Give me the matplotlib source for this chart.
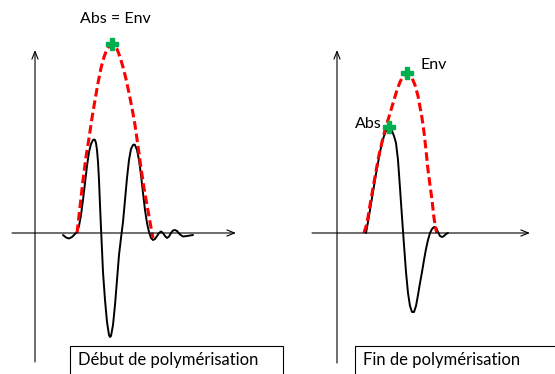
import matplotlib.pyplot as plt
from matplotlib.patches import Rectangle

plt.rcParams["font.family"] = ["Lato", "DejaVu Sans"]

# Signal samples, x along the time axis and y as amplitude above the baseline
start_x = [28, 31, 34, 37, 40, 42, 44, 46, 48, 50, 52, 54, 56, 58, 59, 60, 61, 62, 63,
           64, 65, 66, 67, 68, 70, 72, 74, 75, 76, 78, 80, 82, 84, 86, 88, 90, 92, 94,
           96, 98, 99, 100, 102, 104, 106, 108, 110, 112, 114, 116, 118, 120, 122, 124,
           126, 128, 130, 132, 134, 136, 138, 140, 142, 145, 148, 152, 155, 158]
start_y = [-2, -4.5, -5.5, -4, -1, 1, 7, 18, 33, 50, 67, 81, 89, 93, 93.5, 93, 90, 83,
           71, 53, 28, 5, -17, -39, -67, -89, -102, -104, -103, -92, -72, -47, -22, -5,
           11, 33, 55, 73, 84, 88, 88.5, 88, 83, 73, 58, 40, 23, 10, 1, -5, -7, -6, -3,
           0, 1.5, 0, -3, -5, -3.5, 0, 2.5, 3, 2, -1.5, -3.5, -3, -2.5, -2]

start_env_x = [42, 45, 48, 51, 54, 57, 60, 63, 66, 69, 72, 75, 77, 79, 82, 85, 88, 91,
               94, 97, 100, 103, 106, 109, 112, 115, 117, 118]
start_env_y = [0, 26, 53, 76, 95, 115, 133, 150, 165, 176, 184, 188, 189, 188, 184, 176,
               166, 154, 140, 125, 108, 87, 65, 45, 28, 11, 0, -5]

end_x = [29, 31, 33, 35, 37, 39, 41, 43, 45, 47, 49, 51, 53, 55, 57, 59, 61, 63, 65, 67,
         69, 71, 73, 75, 77, 79, 81, 83, 85, 87, 89, 91, 93, 95, 97, 99, 101, 103, 105,
         107, 109, 111]
end_y = [0, 11, 23, 35, 47, 59, 70, 81, 90, 97, 102, 105, 105, 102, 97, 90, 73, 45, 16,
         -12, -39, -60, -73, -79, -79, -73, -62, -50, -39, -27, -16, -7, 0, 4, 6, 5.5, 1,
         -3, -4, -3, -1, 0]

end_env_x = [27, 30, 33, 36, 39, 42, 45, 48, 51, 54, 57, 60, 63, 66, 69, 72, 75, 78, 81,
             83, 85, 87, 89, 91, 93, 95, 97, 99, 100]
end_env_y = [0, 10, 28, 45, 62, 78, 91, 103, 113, 123, 133, 143, 151, 157, 160, 159, 155,
             148, 137, 126, 115, 101, 83, 63, 48, 33, 15, 3, 0]

start_peak = (77, 189)
end_abs = (52, 106)
end_env = (70, 160)

captions = ["Début de polymérisation", "Fin de polymérisation"]

RED = "#ff0000"
GREEN = "#00b050"

fig = plt.figure(figsize=(5.55, 3.74), dpi=100)


def panel(rect, xlim, ylim, x_axis, y_axis):
    ax = fig.add_axes(rect)
    ax.set_xlim(*xlim)
    ax.set_ylim(*ylim)
    ax.axis("off")
    arrow = dict(arrowstyle="->,head_length=0.55,head_width=0.22", color="black",
                 lw=0.8, shrinkA=0, shrinkB=0)
    ax.annotate("", xy=(x_axis[1], 0), xytext=(x_axis[0], 0), arrowprops=arrow)
    ax.annotate("", xy=(0, y_axis[1]), xytext=(0, y_axis[0]), arrowprops=arrow)
    return ax


def caption(ax, x0, x1, y0, text):
    ax.add_patch(Rectangle((x0, y0 - 60), x1 - x0, 60, fill=False, ec="black", lw=0.8,
                           clip_on=False))
    ax.text(x0 + 8, y0 - 14, text, fontsize=12, va="center", ha="left")


# left panel: origin of the sketch axes sits at pixel (35, 233)
ax1 = panel([0, 0, 280 / 555, 1], (-35, 245), (-141, 233), (-23, 201), (-129, 183))
ax1.plot(start_x, start_y, color="black", lw=1.4, solid_capstyle="round")
ax1.plot(start_env_x, start_env_y, color=RED, lw=2.2, dashes=(2.8, 1.3))
ax1.plot(*start_peak, marker="P", color=GREEN, ms=8, mec=GREEN)
ax1.text(80, 214, "Abs = Env", fontsize=11.5, ha="center", va="center")
caption(ax1, 35, 248, -113, captions[0])

# right panel: origin at pixel (337, 233)
ax2 = panel([280 / 555, 0, 275 / 555, 1], (-57, 218), (-141, 233), (-25, 193), (-130, 183))
ax2.plot(end_x, end_y, color="black", lw=1.4, solid_capstyle="round")
ax2.plot(end_env_x, end_env_y, color=RED, lw=2.2, dashes=(2.8, 1.3))
ax2.plot(*end_abs, marker="P", color=GREEN, ms=8, mec=GREEN)
ax2.plot(*end_env, marker="P", color=GREEN, ms=8, mec=GREEN)
ax2.text(83, 168, "Env", fontsize=11.5, ha="left", va="center")
ax2.text(45, 109, "Abs", fontsize=11.5, ha="right", va="center")
caption(ax2, 18, 230, -113, captions[1])

fig.savefig("out.png", dpi=100)
